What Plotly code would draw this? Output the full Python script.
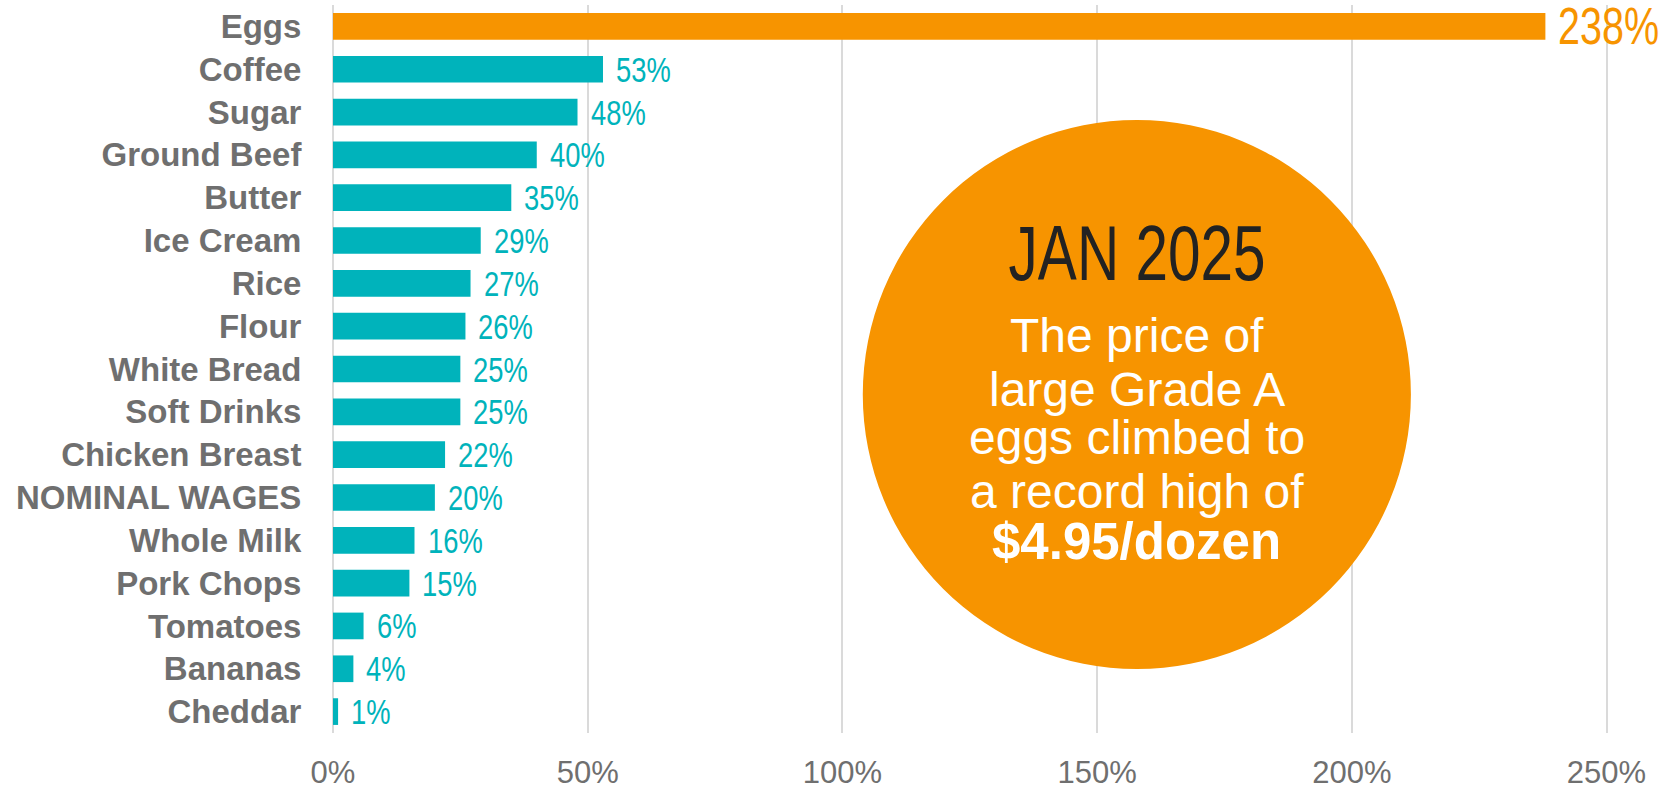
import plotly.graph_objects as go

# Percent change in price, top row first
categories = [
    "Eggs", "Coffee", "Sugar", "Ground Beef", "Butter", "Ice Cream", "Rice",
    "Flour", "White Bread", "Soft Drinks", "Chicken Breast", "NOMINAL WAGES",
    "Whole Milk", "Pork Chops", "Tomatoes", "Bananas", "Cheddar",
]
pct_change = [238, 53, 48, 40, 35, 29, 27, 26, 25, 25, 22, 20, 16, 15, 6, 4, 1]
highlight = "Eggs"

x_tick_values = [0, 50, 100, 150, 200, 250]
x_tick_labels = ["0%", "50%", "100%", "150%", "200%", "250%"]

callout_title = "JAN 2025"
callout_lines = ["The price of", "large Grade A", "eggs climbed to", "a record high of"]
callout_price = "$4.95/dozen"

ORANGE = "#F79400"
TEAL = "#00B3BB"
GRAY = "#6F6F6F"
GRID = "#DADADA"
SANS = "Liberation Sans, Arial, Helvetica, sans-serif"
# narrow face requested first; the page squeezes these labels horizontally
NARROW = "Liberation Sans Narrow, Liberation Sans, Arial, sans-serif"
NARROW_SCALE = 0.76

rows = list(range(len(categories)))
bar_colors = [ORANGE if c == highlight else TEAL for c in categories]

fig = go.Figure(
    go.Bar(
        x=pct_change,
        y=rows,
        orientation="h",
        marker=dict(color=bar_colors, line=dict(width=0)),
        hoverinfo="skip",
    )
)

# value labels beside each bar
for r, (c, v) in enumerate(zip(categories, pct_change)):
    big = c == highlight
    fig.add_annotation(
        x=v, y=r, xref="x", yref="y",
        text=f"{v}%",
        showarrow=False,
        xanchor="left", yanchor="middle",
        xshift=11,
        font=dict(family=NARROW, size=52 if big else 36,
                  color=ORANGE if big else TEAL),
    )

# orange callout disc
fig.add_shape(
    type="circle", xref="x", yref="y",
    x0=104.0, x1=211.6, y0=2.186, y1=15.007,
    fillcolor=ORANGE, line=dict(width=0), layer="above",
)

cx = 157.8
fig.add_annotation(
    x=cx, y=5.30, xref="x", yref="y", text=callout_title, showarrow=False,
    xanchor="center", yanchor="middle",
    font=dict(family=NARROW, size=77, color="#222222"),
)
for y, line in zip([7.229, 8.467, 9.588, 10.849], callout_lines):
    fig.add_annotation(
        x=cx, y=y, xref="x", yref="y", text=line, showarrow=False,
        xanchor="center", yanchor="middle",
        font=dict(family=SANS, size=48, color="white"),
    )
fig.add_annotation(
    x=cx, y=12.017, xref="x", yref="y", text=callout_price, showarrow=False,
    xanchor="center", yanchor="middle",
    font=dict(family=SANS, size=51, color="white", weight="bold"),
)

fig.update_layout(
    width=1668, height=789,
    margin=dict(l=333, r=0, t=5, b=56, pad=0),
    paper_bgcolor="white", plot_bgcolor="white",
    bargap=0.377,
    showlegend=False,
    xaxis=dict(
        range=[0, 262.07],
        tickvals=x_tick_values, ticktext=x_tick_labels,
        showgrid=True, gridcolor=GRID, gridwidth=1.5,
        zeroline=True, zerolinecolor=GRID, zerolinewidth=1.5,
        showline=False,
        ticks="outside", ticklen=12, tickcolor="rgba(0,0,0,0)",
        tickfont=dict(family=SANS, size=31, color=GRAY),
        automargin=False, fixedrange=True,
    ),
    yaxis=dict(
        range=[len(categories) - 0.5, -0.5],
        tickvals=rows, ticktext=categories,
        showgrid=False, zeroline=False, showline=False,
        ticks="outside", ticklen=24, tickcolor="rgba(0,0,0,0)",
        tickfont=dict(family=SANS, size=33, color=GRAY, weight="bold"),
        automargin=False, fixedrange=True,
    ),
)

# condense the annotation texts set in the narrow family
condense_js = """
var gd = document.getElementById('{plot_id}');
function condense() {
  var anns = (gd.layout && gd.layout.annotations) || [];
  gd.querySelectorAll('g.annotation').forEach(function (g) {
    var a = anns[+g.getAttribute('data-index')];
    if (!a || !a.font || !a.font.family || a.font.family.indexOf('Narrow') < 0) return;
    var t = g.querySelector('text.annotation-text');
    if (!t) return;
    t.style.transformBox = 'fill-box';
    t.style.transformOrigin = (a.xanchor === 'left' ? 'left' : 'center') + ' center';
    t.style.transform = 'scaleX(%SCALE%)';
  });
}
condense();
gd.on('plotly_afterplot', condense);
""".replace("%SCALE%", str(NARROW_SCALE))

fig.write_html("out.html", config={"displayModeBar": False}, post_script=condense_js)
